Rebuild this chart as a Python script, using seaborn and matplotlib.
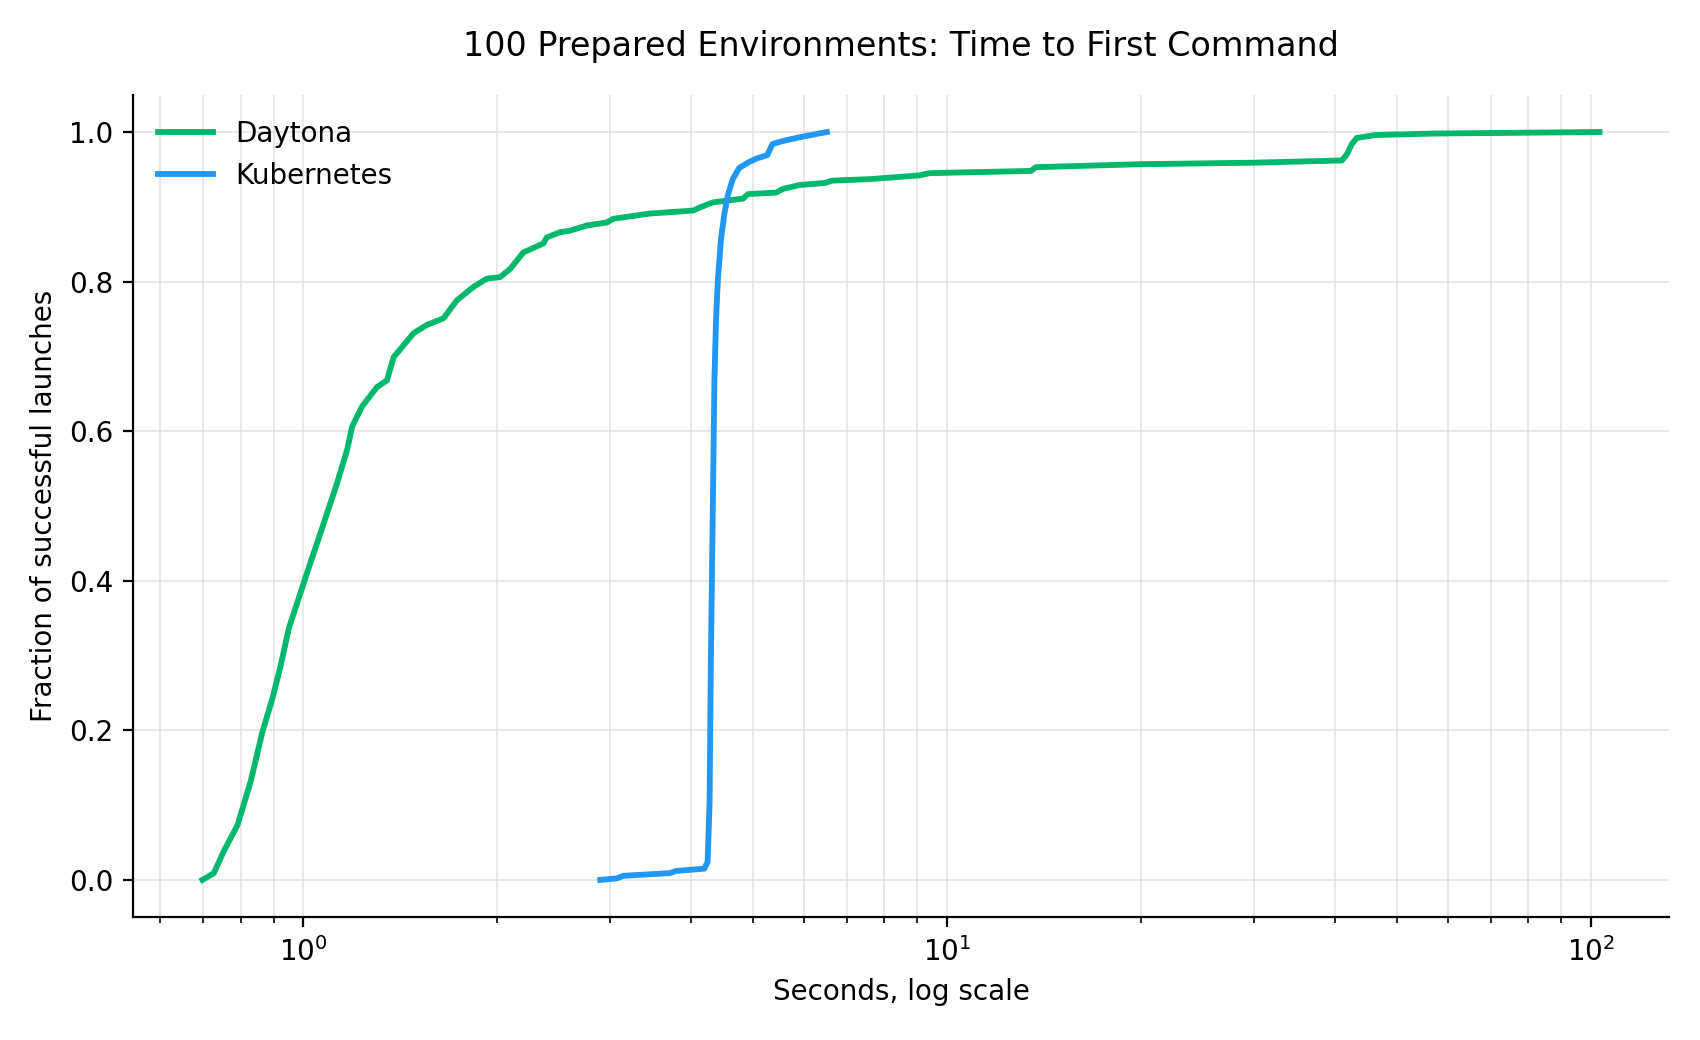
import pandas as pd
import matplotlib
matplotlib.use("Agg")
import matplotlib.pyplot as plt
import seaborn as sns

# Curve points (seconds, cumulative fraction)
daytona_sec = [0.698, 0.727, 0.753, 0.791, 0.829, 0.865, 0.896, 0.923, 0.951, 0.980,
               1.015, 1.077, 1.130, 1.171, 1.192, 1.235, 1.303, 1.350, 1.383, 1.485,
               1.557, 1.653, 1.734, 1.840, 1.930, 2.024, 2.098, 2.199, 2.362, 2.390,
               2.506, 2.598, 2.758, 2.963, 3.033, 3.457, 4.036, 4.130, 4.334, 4.825,
               4.910, 5.430, 5.566, 5.890, 6.470, 6.630, 7.580, 9.060, 9.390, 13.50,
               13.75, 20.00, 30.00, 41.06, 41.80, 42.56, 43.30, 46.30, 57.30, 103.2]
daytona_frac = [0.000, 0.009, 0.038, 0.073, 0.131, 0.198, 0.242, 0.286, 0.337, 0.371,
                0.411, 0.477, 0.531, 0.575, 0.606, 0.633, 0.659, 0.668, 0.699, 0.731,
                0.742, 0.751, 0.775, 0.793, 0.804, 0.806, 0.817, 0.839, 0.851, 0.859,
                0.866, 0.868, 0.875, 0.879, 0.884, 0.891, 0.895, 0.899, 0.906, 0.911,
                0.917, 0.919, 0.924, 0.929, 0.932, 0.935, 0.937, 0.942, 0.945, 0.948,
                0.953, 0.957, 0.959, 0.962, 0.970, 0.984, 0.992, 0.996, 0.998, 1.000]

kube_sec = [2.895, 3.07, 3.146, 3.71, 3.80, 4.20, 4.25, 4.28, 4.30, 4.33,
            4.355, 4.38, 4.41, 4.46, 4.51, 4.57, 4.65, 4.76, 4.93, 5.08,
            5.26, 5.36, 5.62, 6.03, 6.51]
kube_frac = [0.000, 0.002, 0.0055, 0.009, 0.012, 0.015, 0.024, 0.102, 0.293, 0.497,
             0.668, 0.749, 0.804, 0.858, 0.889, 0.916, 0.937, 0.952, 0.960, 0.965,
             0.969, 0.984, 0.989, 0.9946, 1.000]

df = pd.concat([
    pd.DataFrame({'Seconds': daytona_sec, 'Fraction': daytona_frac, 'Platform': 'Daytona'}),
    pd.DataFrame({'Seconds': kube_sec, 'Fraction': kube_frac, 'Platform': 'Kubernetes'}),
])

palette = {'Daytona': '#00B86B', 'Kubernetes': '#2196F3'}

fig, ax = plt.subplots(figsize=(8.5, 5.2), dpi=200)
fig.subplots_adjust(left=0.078, right=0.982, top=0.909, bottom=0.118)

sns.lineplot(data=df, x='Seconds', y='Fraction', hue='Platform', palette=palette,
             estimator=None, sort=False, linewidth=2.1, ax=ax)
ax.set_xscale('log')

# light grid, minor lines on the log axis too
ax.grid(True, which='both', axis='x', color='#dddddd', linewidth=0.6, alpha=0.8)
ax.grid(True, which='major', axis='y', color='#dddddd', linewidth=0.6, alpha=0.8)
ax.set_axisbelow(True)

ax.set_title('100 Prepared Environments: Time to First Command', fontsize=12, pad=14)
ax.set_xlabel('Seconds, log scale', fontsize=10)
ax.set_ylabel('Fraction of successful launches', fontsize=10)
ax.tick_params(labelsize=10)

ax.spines['top'].set_visible(False)
ax.spines['right'].set_visible(False)
ax.legend(frameon=False, loc='upper left', fontsize=10)

fig.savefig('out.png', dpi=200)
